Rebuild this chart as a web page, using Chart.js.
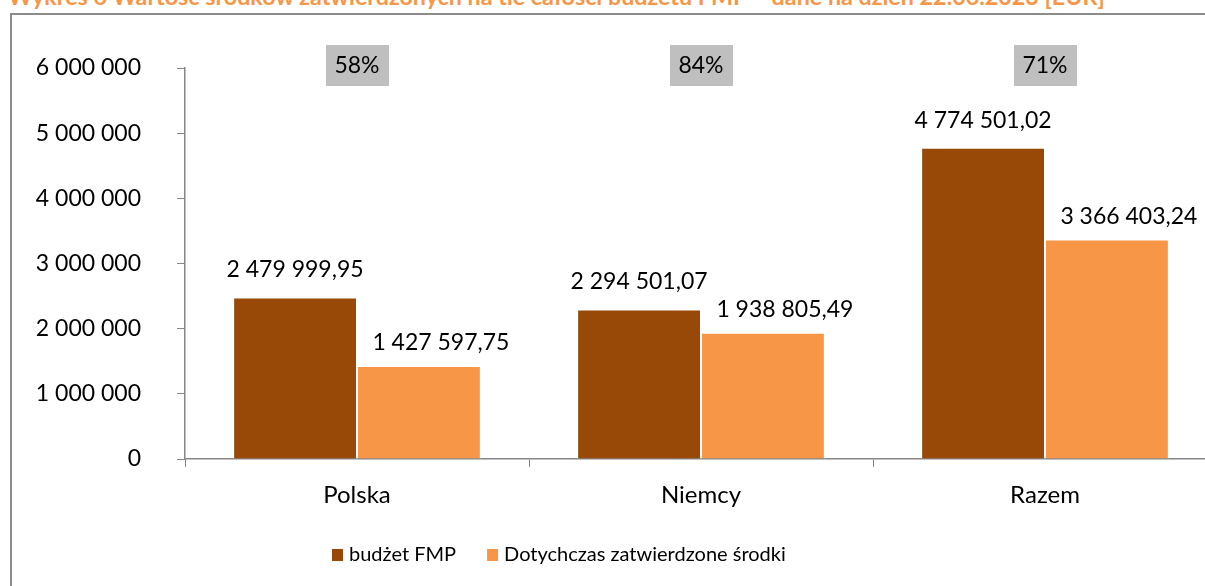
<!DOCTYPE html>
<html>
<head>
<meta charset="utf-8">
<script src="https://cdn.jsdelivr.net/npm/chart.js@4/dist/chart.umd.min.js"></script>
<style>
  html, body { margin: 0; padding: 0; background: #fff; overflow: hidden; width: 1205px; height: 586px; }
  #title { position: absolute; left: 8px; top: -15px; font: bold 23.3px Lato; color: #F79646; white-space: nowrap; line-height: 23px; }
  .rule { position: absolute; background: #8c8c8c; }
  #ruleTop { left: 10px; top: 13px; width: 1195px; height: 2px; }
  #ruleLeft { left: 10px; top: 13px; width: 2px; height: 573px; }
  #clip { position: absolute; left: 12px; top: 15px; width: 1193px; height: 571px; overflow: hidden; }
  canvas { display: block; }
</style>
</head>
<body>
<div id="title">Wykres 6 Wartość środków zatwierdzonych na tle całości budżetu FMP – dane na dzień 22.06.2023 [EUR]</div>
<div class="rule" id="ruleTop"></div>
<div class="rule" id="ruleLeft"></div>
<div id="clip"><canvas id="myChart" width="1300" height="580"></canvas></div>
<script>
const categories = ["Polska", "Niemcy", "Razem"];
const budzetFMP = [2479999.95, 2294501.07, 4774501.02];
const zatwierdzone = [1427597.75, 1938805.49, 3366403.24];
const percentLabels = ["58%", "84%", "71%"];
const yMax = 6000000;
const yStep = 1000000;

const FONT = "Lato";
const axisColor = "#868686";

// polish style number: spaces for thousands, comma for decimals
function fmt(v, dec) {
	const parts = v.toFixed(dec).split(".");
	const whole = parts[0].replace(/\B(?=(\d{3})+(?!\d))/g, " ");
	return parts[1] ? whole + "," + parts[1] : whole;
}

// label offsets per dataset (the approved labels sit a bit to the right, like in the original)
const labelShift = [{ dx: 0, dy: 20 }, { dx: 22, dy: 16 }];

const extras = {
	id: "extras",
	afterDatasetsDraw(chart) {
		const ctx = chart.ctx;
		ctx.save();
		ctx.fillStyle = "#000";
		ctx.font = "23px " + FONT;
		ctx.textAlign = "center";
		ctx.textBaseline = "alphabetic";
		chart.data.datasets.forEach((ds, i) => {
			chart.getDatasetMeta(i).data.forEach((bar, j) => {
				ctx.fillText(fmt(ds.data[j], 2), bar.x + labelShift[i].dx, bar.y - labelShift[i].dy);
			});
		});

		// percentage boxes above each category
		const xs = chart.scales.x;
		percentLabels.forEach((p, j) => {
			const cx = xs.getPixelForValue(j);
			ctx.fillStyle = "#BFBFBF";
			ctx.fillRect(cx - 31, 30, 63, 41);
			ctx.fillStyle = "#000";
			ctx.textBaseline = "middle";
			ctx.fillText(p, cx, 51);
		});

		// legend
		let x = 320;
		const y = 540;
		ctx.font = "20px " + FONT;
		ctx.textAlign = "left";
		ctx.textBaseline = "middle";
		chart.data.datasets.forEach((ds) => {
			ctx.fillStyle = ds.backgroundColor;
			ctx.fillRect(x, y - 6, 11, 12);
			ctx.fillStyle = "#000";
			ctx.fillText(ds.label, x + 17, y);
			x += 17 + ctx.measureText(ds.label).width + 31;
		});
		ctx.restore();
	}
};

new Chart(document.getElementById("myChart").getContext("2d"), {
	type: "bar",
	data: {
		labels: categories,
		datasets: [
			{
				label: "budżet FMP",
				data: budzetFMP,
				backgroundColor: "#984807",
				borderColor: "#ffffff",
				borderWidth: 1,
			},
			{
				label: "Dotychczas zatwierdzone środki",
				data: zatwierdzone,
				backgroundColor: "#F79646",
				borderColor: "#ffffff",
				borderWidth: 1,
			},
		],
	},
	options: {
		responsive: false,
		animation: false,
		devicePixelRatio: 1,
		categoryPercentage: 0.72,
		barPercentage: 1,
		layout: { padding: { top: 53, right: 95, left: 0, bottom: 0 } },
		plugins: {
			legend: { display: false },
			tooltip: { enabled: false },
		},
		scales: {
			x: {
				grid: { drawOnChartArea: false, tickLength: 8, color: axisColor, offset: true },
				border: { color: axisColor, width: 1.5 },
				ticks: { font: { family: FONT, size: 24 }, color: "#000", padding: 14 },
				afterFit(s) { s.height = 136; },
			},
			y: {
				min: 0,
				max: yMax,
				ticks: {
					stepSize: yStep,
					font: { family: FONT, size: 23 },
					color: "#000",
					padding: 36,
					callback: (v) => fmt(v, 0),
				},
				grid: { drawOnChartArea: false, tickLength: 8, color: axisColor },
				border: { color: axisColor, width: 1.5 },
				afterFit(s) { s.width = 173; },
			},
		},
	},
	plugins: [extras],
});
</script>
</body>
</html>
